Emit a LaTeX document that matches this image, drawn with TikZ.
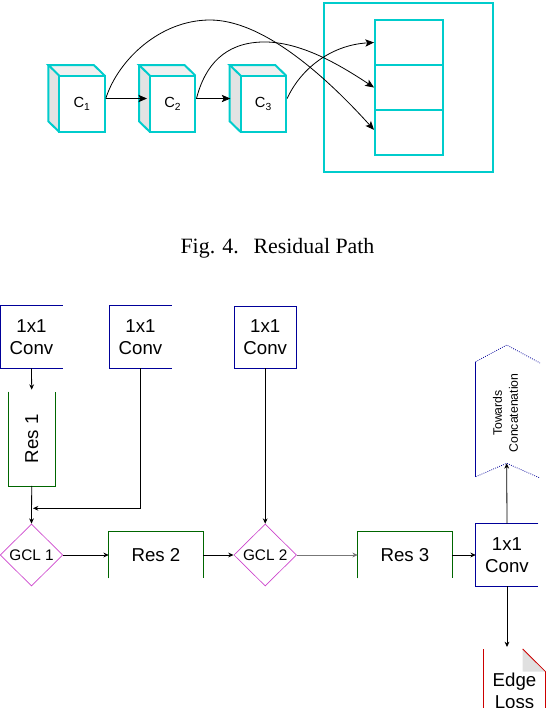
\documentclass[tikz,border=0pt]{standalone}
\usepackage{fontspec}
\setmainfont{Liberation Sans}
\newfontfamily\capfont{Liberation Serif}
\usetikzlibrary{arrows.meta,shapes.geometric}
\definecolor{cyanc}{HTML}{00CCCC}
\definecolor{convblue}{HTML}{000099}
\definecolor{resgreen}{HTML}{006600}
\definecolor{gclmag}{HTML}{CC44CC}
\definecolor{lossred}{HTML}{CC0000}
\definecolor{sidegray}{HTML}{E3E3E3}
\definecolor{topgray}{HTML}{F0F0F0}
\definecolor{foldgray}{HTML}{E0E0E0}
\definecolor{linegray}{HTML}{777777}
\tikzset{
  cubeline/.style={draw=cyanc, line width=1.5pt, line join=miter},
  cubefront/.style={cubeline, fill=white, minimum width=34.1pt, minimum height=42.2pt, inner sep=0pt, font=\fontsize{11}{12}\selectfont},
  cyanbox/.style={draw=cyanc, line width=1.5pt, inner sep=0pt},
  toparrow/.style={draw=black, line width=0.6pt, -{Stealth[length=6.5pt,width=5.5pt,inset=1.5pt]}},
  botarrow/.style={draw=black, line width=0.6pt, -{Stealth[length=4pt,width=3.6pt]}},
  boxlabel/.style={inner sep=0pt, align=center, font=\fontsize{14}{16.3}\selectfont},
  convbox/.style={boxlabel, minimum width=46.5pt, minimum height=46.5pt},
  convline/.style={draw=convblue, line width=0.6pt},
  resline/.style={draw=resgreen, line width=0.6pt},
  gcl/.style={diamond, draw=gclmag, line width=0.5pt, minimum width=47pt, minimum height=46.5pt, inner sep=0pt, font=\fontsize{11.5}{13}\selectfont},
}
\newcommand{\drawcube}[3]{%
  \fill[sidegray] ({#2-11},65) -- (#2,75.7) -- (#2,132) -- ({#2-11},121.3) -- cycle;
  \fill[topgray] ({#2-11},65) -- ({#2+34.5},65) -- ({#2+45.5},75.7) -- (#2,75.7) -- cycle;
  \draw[cubeline] (#2,75.7) -- ({#2-11},65) -- ({#2+34.5},65) -- ({#2+45.5},75.7);
  \draw[cubeline] (#2,132) -- ({#2-11},121.3) -- ({#2-11},65);
  \node[cubefront] (#1) at ({#2+22.75},103.85) {#3};
}
\begin{document}
\begin{tikzpicture}[x=0.75pt,y=-0.75pt]
\useasboundingbox (0,0) rectangle (546,708);
% ---------- top figure ----------
\drawcube{c1}{59.3}{C\textsubscript{1}}
\drawcube{c2}{150}{C\textsubscript{2}}
\drawcube{c3}{240.7}{C\textsubscript{3}}
\node[cyanbox, minimum width=126.75pt, minimum height=126.5pt] (outer) at (408.5,87.65) {};
\node[cyanbox, minimum width=51pt, minimum height=33.75pt] (cell1) at (409,42.5) {};
\node[cyanbox, minimum width=51pt, minimum height=33.75pt] (cell2) at (409,87.5) {};
\node[cyanbox, minimum width=51pt, minimum height=33.75pt] (cell3) at (409,132.5) {};
\draw[toparrow] ([yshift=4pt]c1.east) -- ([yshift=4pt,xshift=-1.5pt]c2.west);
\draw[toparrow] ([yshift=4pt]c2.east) -- ([yshift=4pt,xshift=-7pt]c3.west);
\draw[toparrow] ([yshift=4pt]c1.east) .. controls (118,60) and (160,20) .. (210,20)
   .. controls (260,20) and (320,70) .. ([yshift=2pt]cell3.west);
\draw[toparrow] ([yshift=4pt]c2.east) .. controls (205,65) and (225,43) .. (262,42)
   .. controls (300,41) and (340,65) .. (cell2.west);
\draw[toparrow] ([yshift=4pt]c3.east) .. controls (300,70) and (330,45) .. (cell1.west);
\node[inner sep=0pt, anchor=base, font=\capfont\fontsize{16.4}{19}\selectfont] (cap) at (277.5,253) {Fig. 4.\hspace{0.67em}Residual Path};
% ---------- bottom figure ----------
\node[convbox] (conv1) at (31.5,337) {1x1\\Conv};
\draw[convline] (conv1.north east) -- (conv1.north west) -- (conv1.south west) -- (conv1.south east);
\node[convbox] (conv2) at (140.5,337) {1x1\\Conv};
\draw[convline] (conv2.north east) -- (conv2.north west) -- (conv2.south west) -- (conv2.south east);
\node[convbox, draw=convblue, line width=0.6pt] (conv3) at (265.2,337) {1x1\\Conv};
\node[convbox] (conv4) at (507,555) {1x1\\Conv};
\draw[convline] (conv4.north east) -- (conv4.north west) -- (conv4.south west) -- (conv4.south east);
\node[boxlabel, minimum width=35pt, minimum height=70.3pt] (res1) at (31.7,438.8) {\rotatebox{90}{Res 1}};
\draw[resline] (res1.north west) -- (res1.south west) -- (res1.south east) -- (res1.north east);
\node[boxlabel, minimum width=70.5pt, minimum height=34.5pt] (res2) at (156,555) {Res 2};
\draw[resline] (res2.south west) -- (res2.north west) -- (res2.north east) -- (res2.south east);
\node[boxlabel, minimum width=70.5pt, minimum height=34.5pt] (res3) at (405,555) {Res 3};
\draw[resline] (res3.south west) -- (res3.north west) -- (res3.north east) -- (res3.south east);
\node[gcl] (gcl1) at (31.5,555) {GCL 1};
\node[gcl] (gcl2) at (265.2,555) {GCL 2};
% towards concatenation
\node[rotate=90, align=center, inner sep=0pt, font=\fontsize{9.2}{12}\selectfont] (tow) at (505.5,413) {Towards\\Concatenation};
\coordinate (towbot) at (506.7,463.3);
\draw[convblue, line width=0.6pt] (475.7,361.7) -- (475.7,476.7);
\draw[convblue, line width=0.6pt, densely dotted] (475.7,361.7) -- (506.7,345) -- (540,363);
\draw[convblue, line width=0.6pt, densely dotted] (475.7,476.7) -- (towbot) -- (540,478);
% edge loss
\fill[foldgray] (522.7,649) -- (522.7,671.7) -- (545.6,671.7) -- cycle;
\draw[lossred, line width=0.6pt] (483.3,649) -- (483.3,710);
\draw[lossred, line width=0.6pt] (522.7,649) -- (545.6,671.7) -- (545.6,710);
\node[boxlabel] (loss) at (514.5,691) {Edge\\Loss};
\coordinate (losstop) at (507,647);
\coordinate (join) at (33,508.3);
% connectors
\draw[botarrow] (conv1.south) -- ([yshift=1.5pt]res1.north);
\draw[botarrow] (res1.south) -- (gcl1.north);
\draw[botarrow] (conv2.south) |- (join);
\draw[botarrow] (conv3.south) -- (gcl2.north);
\draw[botarrow] (gcl1.east) -- (res2.west);
\draw[botarrow] (res2.east) -- (gcl2.west);
\draw[botarrow, draw=linegray] (gcl2.east) -- (res3.west);
\draw[botarrow] (res3.east) -- (conv4.west);
\draw[botarrow] (conv4.north) -- (towbot);
\draw[botarrow] (conv4.south) -- (losstop);
\end{tikzpicture}
\end{document}
